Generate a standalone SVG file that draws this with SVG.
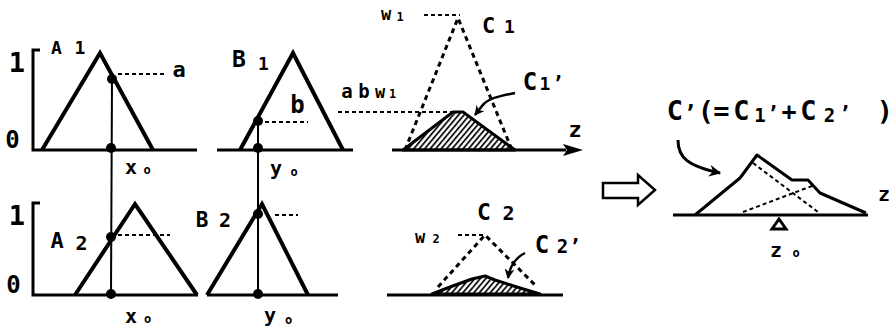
<svg xmlns="http://www.w3.org/2000/svg" width="896" height="331" viewBox="0 0 896 331">
<style>
.t{font-family:"DejaVu Sans Mono","Liberation Mono",monospace;font-weight:bold;fill:#000;text-anchor:middle}
.ax{fill:none;stroke:#000;stroke-width:3}
.tri{fill:none;stroke:#000;stroke-width:4;stroke-linejoin:miter}
.vl{fill:none;stroke:#000;stroke-width:2}
.dash{fill:none;stroke:#000;stroke-width:2;stroke-dasharray:4 3}
.dtri{fill:none;stroke:#000;stroke-width:3;stroke-dasharray:5 4}
.hat{fill:url(#hatch);stroke:#000;stroke-width:3;stroke-linejoin:round}
.dot{fill:#000}
</style>
<defs>
<pattern id="hatch" patternUnits="userSpaceOnUse" width="4.2" height="8" patternTransform="rotate(40)">
<line x1="1" y1="0" x2="1" y2="8" stroke="#000" stroke-width="1.7"/>
</pattern>
<marker id="ah" viewBox="0 0 10 10" refX="9" refY="5" markerWidth="4" markerHeight="4" orient="auto" markerUnits="strokeWidth">
<path d="M0,0 L10,5 L0,10 L3,5 Z" fill="#000"/>
</marker>
</defs>

<g id="A1">
<path class="ax" d="M40,50 H33 V150 H197"/>
<polyline class="tri" points="42,150 100,53 153,150"/>
<line class="dash" x1="118" y1="74" x2="165" y2="74"/>
<circle class="dot" cx="112" cy="79" r="5"/>
<circle class="dot" cx="111" cy="148" r="5"/>
<text class="t"><tspan x="17" y="72" font-size="27">1</tspan><tspan x="12.5" y="148" font-size="24">0</tspan></text>
<text class="t"><tspan x="56.5" y="54" font-size="18">A</tspan><tspan x="80" y="54" font-size="18">1</tspan></text>
<text class="t" x="179" y="77" font-size="22">a</text>
<text class="t"><tspan x="131" y="174" font-size="20">x</tspan><tspan x="147" y="174" font-size="12">o</tspan></text>
</g>

<g id="B1">
<line class="ax" x1="217" y1="150" x2="353" y2="150"/>
<polyline class="tri" points="240,150 293,53 343,150"/>
<line class="dash" x1="265" y1="122" x2="308" y2="122"/>
<circle class="dot" cx="258" cy="121" r="5"/>
<circle class="dot" cx="258" cy="148" r="5"/>
<text class="t"><tspan x="239" y="67" font-size="23">B</tspan><tspan x="263.5" y="70" font-size="18">1</tspan></text>
<text class="t" x="297.5" y="113" font-size="24">b</text>
<text class="t"><tspan x="276" y="175" font-size="20">y</tspan><tspan x="294" y="176" font-size="12">o</tspan></text>
</g>

<g id="C1">
<line class="dash" x1="424" y1="15" x2="460" y2="15"/>
<polyline class="dtri" points="405,150 458,18 512,150"/>
<line class="dash" x1="338" y1="112" x2="455" y2="112"/>
<polygon class="hat" points="403,150 453,112 463,112 515,150"/>
<line class="ax" x1="392" y1="150" x2="566" y2="150"/>
<path d="M563,144 L583,150 L563,156 L567,150 Z" fill="#000"/>
<text class="t"><tspan x="386" y="20" font-size="17">w</tspan><tspan x="400" y="21" font-size="12">1</tspan></text>
<text class="t"><tspan x="488.5" y="33" font-size="22">C</tspan><tspan x="509.5" y="33" font-size="18">1</tspan></text>
<text class="t"><tspan x="347" y="98" font-size="19">a</tspan><tspan x="364" y="98" font-size="19">b</tspan><tspan x="380" y="98" font-size="17">w</tspan><tspan x="392.5" y="98" font-size="12">1</tspan></text>
<text class="t"><tspan x="530" y="90" font-size="24">C</tspan><tspan x="545" y="90" font-size="18">1</tspan><tspan x="558" y="90" font-size="20">’</tspan></text>
<text class="t" x="575" y="137" font-size="22">z</text>
</g>

<g id="A2">
<path class="ax" d="M40,203 H33 V295 H198"/>
<polyline class="tri" points="75,295 135,204 197,295"/>
<line class="dash" x1="118" y1="235" x2="170" y2="235"/>
<circle class="dot" cx="111" cy="237" r="5"/>
<circle class="dot" cx="111" cy="294" r="5"/>
<text class="t"><tspan x="17" y="225" font-size="27">1</tspan><tspan x="13.5" y="293" font-size="24">0</tspan></text>
<text class="t"><tspan x="57" y="248" font-size="22">A</tspan><tspan x="81.5" y="250" font-size="20">2</tspan></text>
<text class="t"><tspan x="131" y="323" font-size="20">x</tspan><tspan x="147.5" y="323" font-size="12">o</tspan></text>
</g>

<g id="B2">
<line class="ax" x1="207" y1="295" x2="338" y2="295"/>
<polyline class="tri" points="207,295 262,204 308,295"/>
<line class="dash" x1="275" y1="215" x2="298" y2="215"/>
<circle class="dot" cx="258" cy="214" r="5"/>
<circle class="dot" cx="258" cy="294" r="5"/>
<text class="t"><tspan x="202" y="227" font-size="21">B</tspan><tspan x="225" y="227" font-size="20">2</tspan></text>
<text class="t"><tspan x="270" y="322" font-size="20">y</tspan><tspan x="288.5" y="324" font-size="12">o</tspan></text>
</g>

<g id="C2">
<line class="ax" x1="387" y1="295" x2="563" y2="295"/>
<line class="dash" x1="458" y1="235" x2="485" y2="235"/>
<polyline class="dtri" points="438,287 485,235 535,285"/>
<path class="hat" d="M432,294 L450,287 L472,279 L485,276 L495,280 L520,288 L540,294 Z"/>
<text class="t"><tspan x="420" y="243" font-size="17">w</tspan><tspan x="436" y="243" font-size="12">2</tspan></text>
<text class="t"><tspan x="484" y="220" font-size="23">C</tspan><tspan x="508.5" y="220" font-size="20">2</tspan></text>
<text class="t"><tspan x="542" y="253" font-size="24">C</tspan><tspan x="562.5" y="253" font-size="19">2</tspan><tspan x="575" y="253" font-size="20">’</tspan></text>
</g>

<g id="result">
<path d="M603,183 H638 V175 L655,190 L638,205 V198 H603 Z" fill="#fff" stroke="#000" stroke-width="2.5" stroke-linejoin="miter"/>
<line class="ax" x1="673" y1="215" x2="868" y2="215"/>
<polyline fill="none" stroke="#000" stroke-width="3" stroke-linejoin="round" points="695,215 740,178 757,155 792,180 808,180 820,193 866,213"/>
<line class="dash" x1="753" y1="163" x2="818" y2="212"/>
<line class="dash" x1="743" y1="212" x2="812" y2="186"/>
<polygon points="779,219 772,229 786,229" fill="#fff" stroke="#000" stroke-width="3"/>
<text class="t"><tspan x="675" y="120" font-size="27">C</tspan><tspan x="690" y="120" font-size="22">’</tspan><tspan x="706" y="120" font-size="27">(</tspan><tspan x="721.5" y="120" font-size="27">=</tspan><tspan x="741.5" y="120" font-size="27">C</tspan><tspan x="760" y="122" font-size="19">1</tspan><tspan x="773" y="120" font-size="20">’</tspan><tspan x="789" y="120" font-size="25">+</tspan><tspan x="808.5" y="120" font-size="27">C</tspan><tspan x="829.5" y="122" font-size="19">2</tspan><tspan x="845" y="120" font-size="20">’</tspan><tspan x="885" y="120" font-size="27">)</tspan></text>
<text class="t" x="884" y="201" font-size="20">z</text>
<text class="t"><tspan x="776" y="257" font-size="20">z</tspan><tspan x="796" y="257" font-size="12">o</tspan></text>
</g>

<g id="connectors">
<line class="vl" x1="112" y1="79" x2="111" y2="294"/>
<line class="vl" x1="258" y1="121" x2="258" y2="294"/>
<path d="M515,93 C500,96 488,98 482,106 L475,115" fill="none" stroke="#000" stroke-width="2.5" marker-end="url(#ah)"/>
<path d="M525,253 C515,258 510,266 508,278" fill="none" stroke="#000" stroke-width="2.5" marker-end="url(#ah)"/>
<path d="M678,140 C678,158 688,166 720,173" fill="none" stroke="#000" stroke-width="3" marker-end="url(#ah)"/>
</g>
</svg>
